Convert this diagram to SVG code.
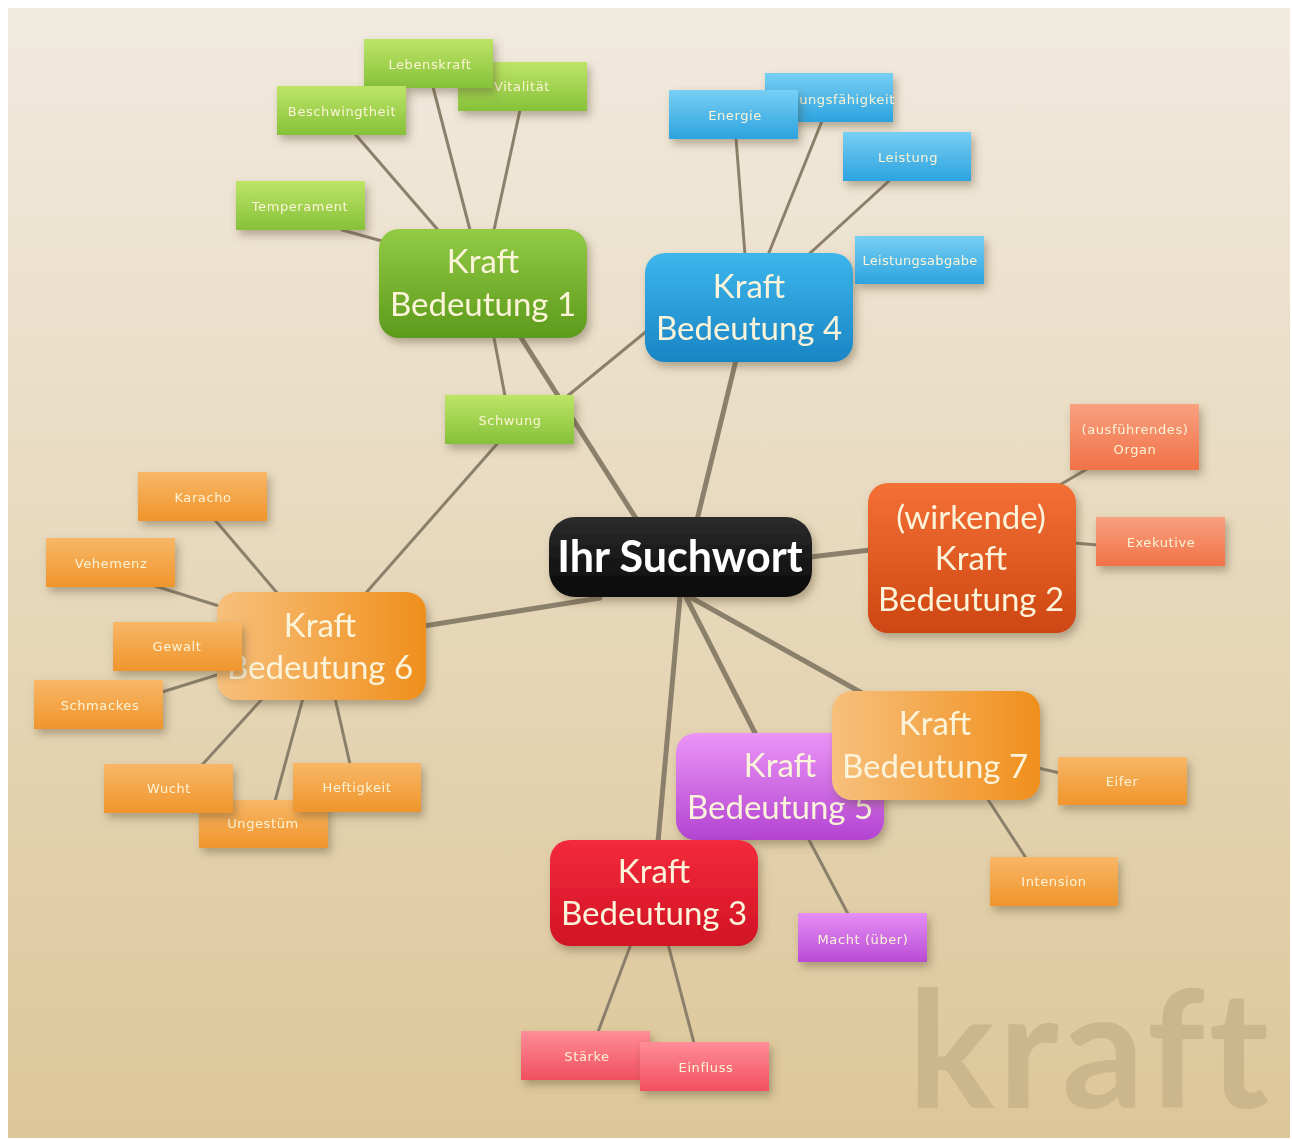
<svg xmlns="http://www.w3.org/2000/svg" width="1292" height="1139" viewBox="0 0 1292 1139">
<defs>
<linearGradient id="bg" x1="0" y1="0" x2="0" y2="1"><stop offset="0" stop-color="#f1eadf"/><stop offset="1" stop-color="#ddc799"/></linearGradient>
<linearGradient id="gM" x1="0" y1="0" x2="0" y2="1"><stop offset="0" stop-color="#93cb45"/><stop offset="1" stop-color="#5c9a1c"/></linearGradient>
<linearGradient id="gL" x1="0" y1="0" x2="0" y2="1"><stop offset="0" stop-color="#bde566"/><stop offset="1" stop-color="#86c13a"/></linearGradient>
<linearGradient id="bM" x1="0" y1="0" x2="0" y2="1"><stop offset="0" stop-color="#3db6ec"/><stop offset="1" stop-color="#1985c4"/></linearGradient>
<linearGradient id="bL" x1="0" y1="0" x2="0" y2="1"><stop offset="0" stop-color="#78cff4"/><stop offset="1" stop-color="#2ca3df"/></linearGradient>
<linearGradient id="rM" x1="0" y1="0" x2="0" y2="1"><stop offset="0" stop-color="#f47036"/><stop offset="1" stop-color="#cd4611"/></linearGradient>
<linearGradient id="rL" x1="0" y1="0" x2="0" y2="1"><stop offset="0" stop-color="#f8a080"/><stop offset="1" stop-color="#f17247"/></linearGradient>
<linearGradient id="oM" x1="0" y1="0" x2="1" y2="0"><stop offset="0" stop-color="#f7c07c"/><stop offset="1" stop-color="#f08f1c"/></linearGradient>
<linearGradient id="oL" x1="0" y1="0" x2="0" y2="1"><stop offset="0" stop-color="#f8b766"/><stop offset="1" stop-color="#f0952c"/></linearGradient>
<linearGradient id="pM" x1="0" y1="0" x2="0" y2="1"><stop offset="0" stop-color="#eb95f7"/><stop offset="1" stop-color="#b343d1"/></linearGradient>
<linearGradient id="pL" x1="0" y1="0" x2="0" y2="1"><stop offset="0" stop-color="#e58ef5"/><stop offset="1" stop-color="#b94bd6"/></linearGradient>
<linearGradient id="dM" x1="0" y1="0" x2="0" y2="1"><stop offset="0" stop-color="#f32a3c"/><stop offset="1" stop-color="#d11324"/></linearGradient>
<linearGradient id="dL" x1="0" y1="0" x2="0" y2="1"><stop offset="0" stop-color="#ff8d98"/><stop offset="1" stop-color="#f14f60"/></linearGradient>
<linearGradient id="kM" x1="0" y1="0" x2="0" y2="1"><stop offset="0" stop-color="#2c2c2c"/><stop offset="1" stop-color="#080808"/></linearGradient>
<filter id="sh" x="-20%" y="-20%" width="150%" height="160%"><feDropShadow dx="3" dy="5" stdDeviation="4" flood-color="#5a4a30" flood-opacity="0.4"/></filter>
</defs>
<style>
.main{filter:url(#sh)}
.leaf{filter:url(#sh)}
.mt{font-family:Lato,"Liberation Sans",sans-serif;font-size:33px;fill:#fbf4da;text-anchor:middle}
.lt{font-family:"DejaVu Sans","Liberation Sans",sans-serif;font-size:13px;fill:#fbf3d6;text-anchor:middle;letter-spacing:0.6px}
.c{stroke:#8b806b;fill:none;stroke-linecap:round}
.c1{stroke-width:5}
.c2{stroke-width:3}
</style>
<rect x="0" y="0" width="1292" height="1139" fill="#ffffff"/>
<rect x="8" y="8" width="1282" height="1130" fill="url(#bg)"/>
<text x="908" y="1108" font-family="Lato,'Liberation Sans',sans-serif" font-weight="bold" font-size="162" letter-spacing="4" fill="#ccb68c">kraft</text>

<g id="connectors">
<line class="c c1" x1="637" y1="520" x2="520" y2="336"/>
<line class="c c1" x1="697" y1="520" x2="736" y2="360"/>
<line class="c c1" x1="810" y1="557" x2="870" y2="550"/>
<line class="c c1" x1="600" y1="598" x2="424" y2="626"/>
<line class="c c1" x1="690" y1="597" x2="862" y2="693"/>
<line class="c c1" x1="686" y1="597" x2="756" y2="735"/>
<line class="c c1" x1="680" y1="597" x2="658" y2="842"/>
<line class="c c2" x1="494" y1="338" x2="505" y2="396"/>
<line class="c c2" x1="648" y1="330" x2="565" y2="398"/>
<line class="c c2" x1="497" y1="444" x2="365" y2="594"/>
<line class="c c2" x1="342" y1="230" x2="382" y2="241"/>
<line class="c c2" x1="355" y1="134" x2="438" y2="230"/>
<line class="c c2" x1="433" y1="87" x2="470" y2="230"/>
<line class="c c2" x1="520" y1="110" x2="494" y2="230"/>
<line class="c c2" x1="736" y1="138" x2="745" y2="255"/>
<line class="c c2" x1="822" y1="121" x2="768" y2="255"/>
<line class="c c2" x1="890" y1="180" x2="808" y2="255"/>
<line class="c c2" x1="1087" y1="469" x2="1058" y2="486"/>
<line class="c c2" x1="1074" y1="543" x2="1098" y2="545"/>
<line class="c c2" x1="215" y1="520" x2="278" y2="594"/>
<line class="c c2" x1="155" y1="586" x2="219" y2="606"/>
<line class="c c2" x1="162" y1="692" x2="220" y2="674"/>
<line class="c c2" x1="202" y1="765" x2="263" y2="698"/>
<line class="c c2" x1="275" y1="801" x2="303" y2="698"/>
<line class="c c2" x1="350" y1="764" x2="335" y2="698"/>
<line class="c c2" x1="1038" y1="768" x2="1060" y2="773"/>
<line class="c c2" x1="987" y1="798" x2="1026" y2="858"/>
<line class="c c2" x1="808" y1="838" x2="848" y2="914"/>
<line class="c c2" x1="631" y1="944" x2="598" y2="1032"/>
<line class="c c2" x1="668" y1="944" x2="694" y2="1043"/>
</g>

<g id="center" class="main"><rect x="549" y="517" width="263" height="80" rx="26" fill="url(#kM)"/><text x="680" y="572" font-family="Lato,'Liberation Sans',sans-serif" font-weight="bold" font-size="43" fill="#ffffff" text-anchor="middle">Ihr Suchwort</text></g>

<g id="b1" class="main"><rect x="379" y="229" width="208" height="109" rx="20" fill="url(#gM)"/><text class="mt" x="483" y="273">Kraft</text><text class="mt" x="483" y="316">Bedeutung 1</text></g>
<g id="vitalitaet" class="leaf"><rect x="458" y="62" width="129" height="49" fill="url(#gL)"/><text class="lt" x="522" y="91">Vitalität</text></g>
<g id="lebenskraft" class="leaf"><rect x="364" y="39" width="129" height="49" fill="url(#gL)"/><text class="lt" x="430" y="69">Lebenskraft</text></g>
<g id="beschwingtheit" class="leaf"><rect x="277" y="86" width="129" height="49" fill="url(#gL)"/><text class="lt" x="342" y="116">Beschwingtheit</text></g>
<g id="temperament" class="leaf"><rect x="236" y="181" width="129" height="49" fill="url(#gL)"/><text class="lt" x="300" y="211">Temperament</text></g>
<g id="schwung" class="leaf"><rect x="445" y="395" width="129" height="49" fill="url(#gL)"/><text class="lt" x="510" y="425">Schwung</text></g>

<g id="b4" class="main"><rect x="645" y="253" width="208" height="109" rx="20" fill="url(#bM)"/><text class="mt" x="749" y="298">Kraft</text><text class="mt" x="749" y="340">Bedeutung 4</text></g>
<g id="leistungsfaehigkeit" class="leaf"><rect x="765" y="73" width="128" height="49" fill="url(#bL)"/><text class="lt" x="847" y="104">ungsfähigkeit</text></g>
<g id="energie" class="leaf"><rect x="669" y="90" width="129" height="49" fill="url(#bL)"/><text class="lt" x="735" y="120">Energie</text></g>
<g id="leistung" class="leaf"><rect x="843" y="132" width="128" height="49" fill="url(#bL)"/><text class="lt" x="908" y="162">Leistung</text></g>
<g id="leistungsabgabe" class="leaf"><rect x="855" y="236" width="129" height="48" fill="url(#bL)"/><text class="lt" x="920" y="265" style="letter-spacing:0.3px">Leistungsabgabe</text></g>

<g id="b2" class="main"><rect x="868" y="483" width="208" height="150" rx="20" fill="url(#rM)"/><text class="mt" x="971" y="529">(wirkende)</text><text class="mt" x="971" y="570">Kraft</text><text class="mt" x="971" y="611">Bedeutung 2</text></g>
<g id="organ" class="leaf"><rect x="1070" y="404" width="129" height="66" fill="url(#rL)"/><text class="lt" x="1135" y="434">(ausführendes)</text><text class="lt" x="1135" y="454">Organ</text></g>
<g id="exekutive" class="leaf"><rect x="1096" y="517" width="129" height="49" fill="url(#rL)"/><text class="lt" x="1161" y="547">Exekutive</text></g>

<g id="b6" class="main"><rect x="217" y="592" width="209" height="108" rx="20" fill="url(#oM)"/><text class="mt" x="320" y="637">Kraft</text><text class="mt" x="320" y="679">Bedeutung 6</text></g>
<g id="karacho" class="leaf"><rect x="138" y="472" width="129" height="49" fill="url(#oL)"/><text class="lt" x="203" y="502">Karacho</text></g>
<g id="vehemenz" class="leaf"><rect x="46" y="538" width="129" height="49" fill="url(#oL)"/><text class="lt" x="111" y="568">Vehemenz</text></g>
<g id="gewalt" class="leaf"><rect x="113" y="622" width="129" height="49" fill="url(#oL)"/><text class="lt" x="177" y="651">Gewalt</text></g>
<g id="schmackes" class="leaf"><rect x="34" y="680" width="129" height="49" fill="url(#oL)"/><text class="lt" x="100" y="710">Schmackes</text></g>
<g id="ungestuem" class="leaf"><rect x="199" y="800" width="129" height="48" fill="url(#oL)"/><text class="lt" x="263" y="828">Ungestüm</text></g>
<g id="wucht" class="leaf"><rect x="104" y="764" width="129" height="49" fill="url(#oL)"/><text class="lt" x="169" y="793">Wucht</text></g>
<g id="heftigkeit" class="leaf"><rect x="293" y="763" width="128" height="49" fill="url(#oL)"/><text class="lt" x="357" y="792">Heftigkeit</text></g>

<g id="b5" class="main"><rect x="676" y="733" width="208" height="107" rx="20" fill="url(#pM)"/><text class="mt" x="780" y="777">Kraft</text><text class="mt" x="780" y="819">Bedeutung 5</text></g>
<g id="macht" class="leaf"><rect x="798" y="913" width="129" height="49" fill="url(#pL)"/><text class="lt" x="863" y="944">Macht (über)</text></g>

<g id="b7" class="main"><rect x="832" y="691" width="208" height="109" rx="20" fill="url(#oM)"/><text class="mt" x="935" y="735">Kraft</text><text class="mt" x="935" y="778">Bedeutung 7</text></g>
<g id="eifer" class="leaf"><rect x="1058" y="757" width="129" height="48" fill="url(#oL)"/><text class="lt" x="1122" y="786">Eifer</text></g>
<g id="intension" class="leaf"><rect x="990" y="857" width="128" height="49" fill="url(#oL)"/><text class="lt" x="1054" y="886">Intension</text></g>

<g id="b3" class="main"><rect x="550" y="840" width="208" height="106" rx="20" fill="url(#dM)"/><text class="mt" x="654" y="883">Kraft</text><text class="mt" x="654" y="925">Bedeutung 3</text></g>
<g id="staerke" class="leaf"><rect x="521" y="1031" width="129" height="49" fill="url(#dL)"/><text class="lt" x="587" y="1061">Stärke</text></g>
<g id="einfluss" class="leaf"><rect x="640" y="1042" width="129" height="49" fill="url(#dL)"/><text class="lt" x="706" y="1072">Einfluss</text></g>
</svg>
